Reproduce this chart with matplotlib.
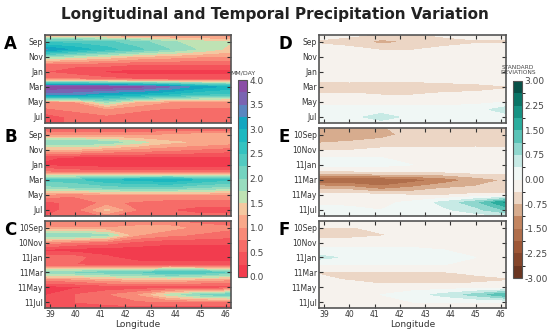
import numpy as np
import matplotlib.pyplot as plt
from matplotlib.colors import ListedColormap, BoundaryNorm, LinearSegmentedColormap

# grid: longitude columns and month rows (row -1 = Aug before Sep, row 11 = Aug)
lons = [38.75, 40.0, 41.25, 42.5, 43.75, 45.0, 46.25]
rows = list(range(-1, 12))

month_ticks = [0, 2, 4, 6, 8, 10]
labels_clim = ['Sep', 'Nov', 'Jan', 'Mar', 'May', 'Jul']
labels_year = ['10Sep', '10Nov', '11Jan', '11Mar', '11May', '11Jul']

precip_a = [
    [0.8, 0.8, 0.7, 0.7, 0.7, 0.7, 0.7],
    [2.4, 2.4, 2.3, 2.1, 1.8, 1.6, 1.5],
    [3.3, 2.9, 2.6, 2.3, 2.0, 1.7, 1.4],
    [1.8, 1.6, 1.4, 1.2, 1.1, 1.0, 1.0],
    [0.7, 0.6, 0.6, 0.5, 0.5, 0.5, 0.5],
    [0.5, 0.3, 0.2, 0.1, 0.1, 0.1, 0.1],
    [0.8, 0.8, 0.6, 0.5, 0.5, 0.5, 0.5],
    [3.9, 3.9, 3.9, 3.8, 3.5, 3.1, 2.9],
    [3.4, 3.3, 3.0, 2.9, 2.7, 2.5, 2.4],
    [0.9, 1.0, 1.8, 1.2, 1.0, 0.9, 0.9],
    [0.7, 0.8, 0.9, 0.8, 0.7, 0.7, 0.7],
    [0.3, 0.6, 0.7, 0.6, 0.6, 0.6, 0.6],
    [0.3, 0.6, 0.6, 0.6, 0.6, 0.6, 0.6],
]
precip_b = [
    [0.5, 0.4, 0.4, 0.4, 0.4, 0.4, 0.4],
    [0.9, 0.9, 0.9, 0.9, 1.0, 1.1, 1.1],
    [2.0, 2.0, 1.9, 1.6, 1.3, 1.2, 1.1],
    [1.2, 1.2, 1.0, 0.9, 0.8, 0.7, 0.6],
    [0.3, 0.2, 0.2, 0.2, 0.2, 0.2, 0.2],
    [0.2, 0.1, 0.1, 0.1, 0.1, 0.1, 0.1],
    [0.8, 0.7, 0.6, 0.6, 0.6, 0.6, 0.6],
    [2.3, 2.4, 2.7, 2.8, 2.9, 2.7, 2.5],
    [1.9, 2.0, 2.1, 2.2, 2.2, 2.0, 1.9],
    [0.9, 0.8, 1.0, 1.0, 1.0, 1.0, 1.0],
    [0.4, 0.6, 0.8, 0.7, 0.6, 0.6, 0.6],
    [0.4, 0.6, 1.3, 0.7, 0.5, 0.4, 0.4],
    [0.5, 0.6, 0.7, 0.7, 0.6, 0.6, 0.6],
]
precip_c = [
    [0.8, 0.8, 0.8, 0.7, 0.7, 0.6, 0.5],
    [1.0, 1.0, 1.0, 1.1, 1.1, 0.9, 0.8],
    [2.0, 2.0, 1.8, 1.0, 0.8, 0.7, 0.6],
    [0.9, 0.7, 0.6, 0.4, 0.3, 0.3, 0.3],
    [0.2, 0.1, 0.1, 0.1, 0.1, 0.1, 0.1],
    [0.6, 0.6, 0.3, 0.1, 0.1, 0.1, 0.1],
    [0.5, 0.5, 0.4, 0.4, 0.4, 0.4, 0.4],
    [2.0, 2.0, 2.1, 2.2, 2.5, 2.4, 2.2],
    [0.8, 0.9, 1.1, 1.2, 1.2, 1.1, 1.0],
    [0.1, 0.2, 0.3, 0.3, 0.3, 0.3, 0.3],
    [0.2, 0.5, 0.7, 1.0, 1.6, 2.0, 2.2],
    [0.4, 0.5, 0.6, 0.7, 0.7, 0.7, 0.7],
    [0.2, 0.3, 0.3, 0.3, 0.3, 0.3, 0.3],
]
anom_d = [
    [-0.3, -0.3, -0.4, -0.4, -0.3, -0.3, -0.3],
    [-0.4, -0.5, -0.9, -0.7, -0.5, -0.4, -0.4],
    [-0.3, -0.3, -0.4, -0.4, -0.3, -0.3, -0.3],
    [-0.2, -0.2, -0.2, -0.2, -0.2, -0.2, -0.2],
    [-0.1, -0.1, -0.1, -0.1, -0.1, -0.1, -0.1],
    [0.0, 0.0, 0.0, 0.0, 0.0, 0.0, 0.0],
    [-0.2, -0.2, -0.2, -0.2, -0.2, -0.2, -0.2],
    [-0.8, -0.7, -0.8, -0.8, -0.6, -0.5, -0.4],
    [-0.3, -0.3, -0.4, -0.4, -0.3, -0.3, -0.3],
    [-0.1, -0.1, -0.1, -0.1, -0.1, -0.1, 0.0],
    [0.1, 0.1, 0.1, 0.1, 0.1, 0.2, 0.6],
    [0.2, 0.2, 0.6, 0.2, 0.2, 0.2, 0.2],
    [0.1, 0.1, 0.1, 0.1, 0.1, 0.1, 0.1],
]
anom_e = [
    [-0.7, -0.9, -0.8, -0.5, -0.4, -0.4, -0.4],
    [-1.1, -1.1, -0.9, -0.6, -0.5, -0.5, -0.5],
    [-0.8, -0.7, -0.6, -0.6, -0.6, -0.5, -0.6],
    [-0.4, -0.4, -0.3, -0.3, -0.3, -0.3, -0.3],
    [0.0, 0.0, 0.0, 0.0, 0.0, 0.0, 0.0],
    [0.1, 0.1, 0.1, 0.0, 0.0, 0.0, 0.0],
    [-0.5, -0.5, -0.4, -0.4, -0.4, -0.3, -0.3],
    [-2.0, -2.0, -1.9, -1.7, -1.4, -1.0, -0.7],
    [-0.9, -1.0, -1.4, -1.1, -0.8, -0.7, -0.6],
    [-0.2, -0.2, -0.3, -0.4, -0.4, -0.3, -0.3],
    [-0.1, -0.1, -0.1, 0.1, 0.5, 1.0, 2.0],
    [0.2, 0.1, 0.0, 0.1, 0.3, 0.6, 1.2],
    [0.1, 0.1, 0.1, 0.1, 0.1, 0.1, 0.1],
]
anom_f = [
    [-0.1, -0.1, -0.1, -0.1, -0.1, -0.1, -0.1],
    [-0.4, -0.4, -0.3, -0.2, -0.2, -0.2, -0.2],
    [-0.5, -0.5, -0.4, -0.3, -0.3, -0.3, -0.4],
    [-0.2, -0.2, -0.2, -0.2, -0.2, -0.2, -0.2],
    [0.1, 0.1, 0.1, 0.1, 0.0, 0.0, 0.0],
    [0.5, 0.3, 0.1, 0.1, 0.1, 0.0, 0.0],
    [0.0, 0.0, 0.0, 0.0, 0.0, 0.0, 0.0],
    [-0.4, -0.4, -0.4, -0.4, -0.4, -0.3, -0.3],
    [-0.3, -0.4, -0.6, -0.6, -0.6, -0.5, -0.4],
    [-0.1, -0.1, -0.2, -0.2, -0.2, -0.2, -0.2],
    [0.0, 0.0, 0.0, 0.2, 0.5, 0.9, 1.5],
    [0.0, 0.0, 0.0, 0.0, 0.0, 0.0, 0.0],
    [0.0, 0.0, 0.0, 0.0, 0.0, 0.0, 0.0],
]

# colours for the 16 precipitation bands (0 to 4 by 0.25)
precip_colors = ['#f23c4e', '#f4525a', '#f66c68', '#f88a78', '#f9a88a', '#f4c8a0',
                 '#bfe3b4', '#98dcbf', '#74d3c0', '#52cac0', '#34c2c0', '#1cb8c0',
                 '#14a6c0', '#5a86c0', '#7a64b2', '#8a4ea6']
precip_levels = np.linspace(0, 4, 17)
cmap_p = ListedColormap(precip_colors)
norm_p = BoundaryNorm(precip_levels, cmap_p.N)

anom_levels = np.linspace(-3, 3, 17)
brown_teal = LinearSegmentedColormap.from_list(
    'brown_teal', [(0.0, '#5e2e1c'), (0.15, '#9c5434'), (0.3, '#c88c66'),
                   (0.4, '#ead2bf'), (0.46, '#f6f1eb'), (0.5, '#f7f5f2'),
                   (0.54, '#eef7f5'), (0.6, '#c4e9e4'), (0.7, '#6ccbbf'),
                   (0.8, '#1fa898'), (0.9, '#0b7a6c'), (1.0, '#05423a')])
cmap_a = ListedColormap(brown_teal((np.arange(16) + 0.5) / 16))
norm_a = BoundaryNorm(anom_levels, 16)

fig = plt.figure(figsize=(5.5, 3.34), dpi=100)
W, H = 550.0, 334.0


def add_ax(x0, x1, y0, y1):
    return fig.add_axes([x0 / W, 1 - y1 / H, (x1 - x0) / W, (y1 - y0) / H])


panel_y = [(35, 123), (128, 216), (221, 308)]
left_data = [precip_a, precip_b, precip_c]
right_data = [anom_d, anom_e, anom_f]
left_labels = [labels_clim, labels_clim, labels_year]
right_labels = [labels_clim, labels_year, labels_year]

X, Y = np.meshgrid(lons, rows)

for i, (y0, y1) in enumerate(panel_y):
    for side in range(2):
        if side == 0:
            ax = add_ax(45, 231, y0, y1)
            cs = ax.contourf(X, Y, np.array(left_data[i]), levels=precip_levels,
                             cmap=cmap_p, norm=norm_p)
            letter = 'ABC'[i]
            ylabels = left_labels[i]
            lx = 4
        else:
            ax = add_ax(319, 506, y0, y1)
            cs2 = ax.contourf(X, Y, np.array(right_data[i]), levels=anom_levels,
                              cmap=cmap_a, norm=norm_a)
            letter = 'DEF'[i]
            ylabels = right_labels[i]
            lx = 279
        ax.set_xlim(38.8, 46.2)
        ax.set_ylim(10.8, -0.9)
        ax.set_yticks(month_ticks)
        ax.set_yticklabels(ylabels)
        ax.set_xticks(range(39, 47))
        ax.tick_params(direction='in', top=True, right=True, length=3,
                       labelsize=5.5, colors='#333333', pad=1.5)
        if i < 2:
            ax.set_xticklabels([])
        else:
            ax.set_xlabel('Longitude', fontsize=6.5, labelpad=1, color='#333333')
        for s in ax.spines.values():
            s.set_color('#555555')
            s.set_linewidth(1.2)
        fig.text(lx / W, 1 - (y0 + 9) / H, letter, fontsize=12, fontweight='bold',
                 va='center', ha='left')

cax1 = add_ax(238, 247, 80, 277)
cb1 = fig.colorbar(cs, cax=cax1, ticks=np.arange(0, 4.01, 0.5))
cb1.ax.tick_params(labelsize=6.5, length=0, colors='#444444', pad=2)
cb1.outline.set_edgecolor('#555555')
fig.text(243 / W, 1 - 73 / H, 'MM/DAY', fontsize=4.5, ha='center', va='center',
         color='#444444')

cax2 = add_ax(513, 522, 81, 278)
cb2 = fig.colorbar(cs2, cax=cax2, ticks=np.arange(-3, 3.01, 0.75))
cb2.ax.set_yticklabels(['%.2f' % v for v in np.arange(-3, 3.01, 0.75)])
cb2.ax.tick_params(labelsize=6.5, length=0, colors='#444444', pad=2)
cb2.outline.set_edgecolor('#555555')
fig.text(518 / W, 1 - 70 / H, 'STANDARD\nDEVIATIONS', fontsize=4.2, ha='center',
         va='center', color='#444444', linespacing=1.0)

fig.text(0.5, 1 - 15 / H, 'Longitudinal and Temporal Precipitation Variation',
         fontsize=11, fontweight='bold', ha='center', va='center', color='#222222')

fig.savefig('out.png', dpi=100)
